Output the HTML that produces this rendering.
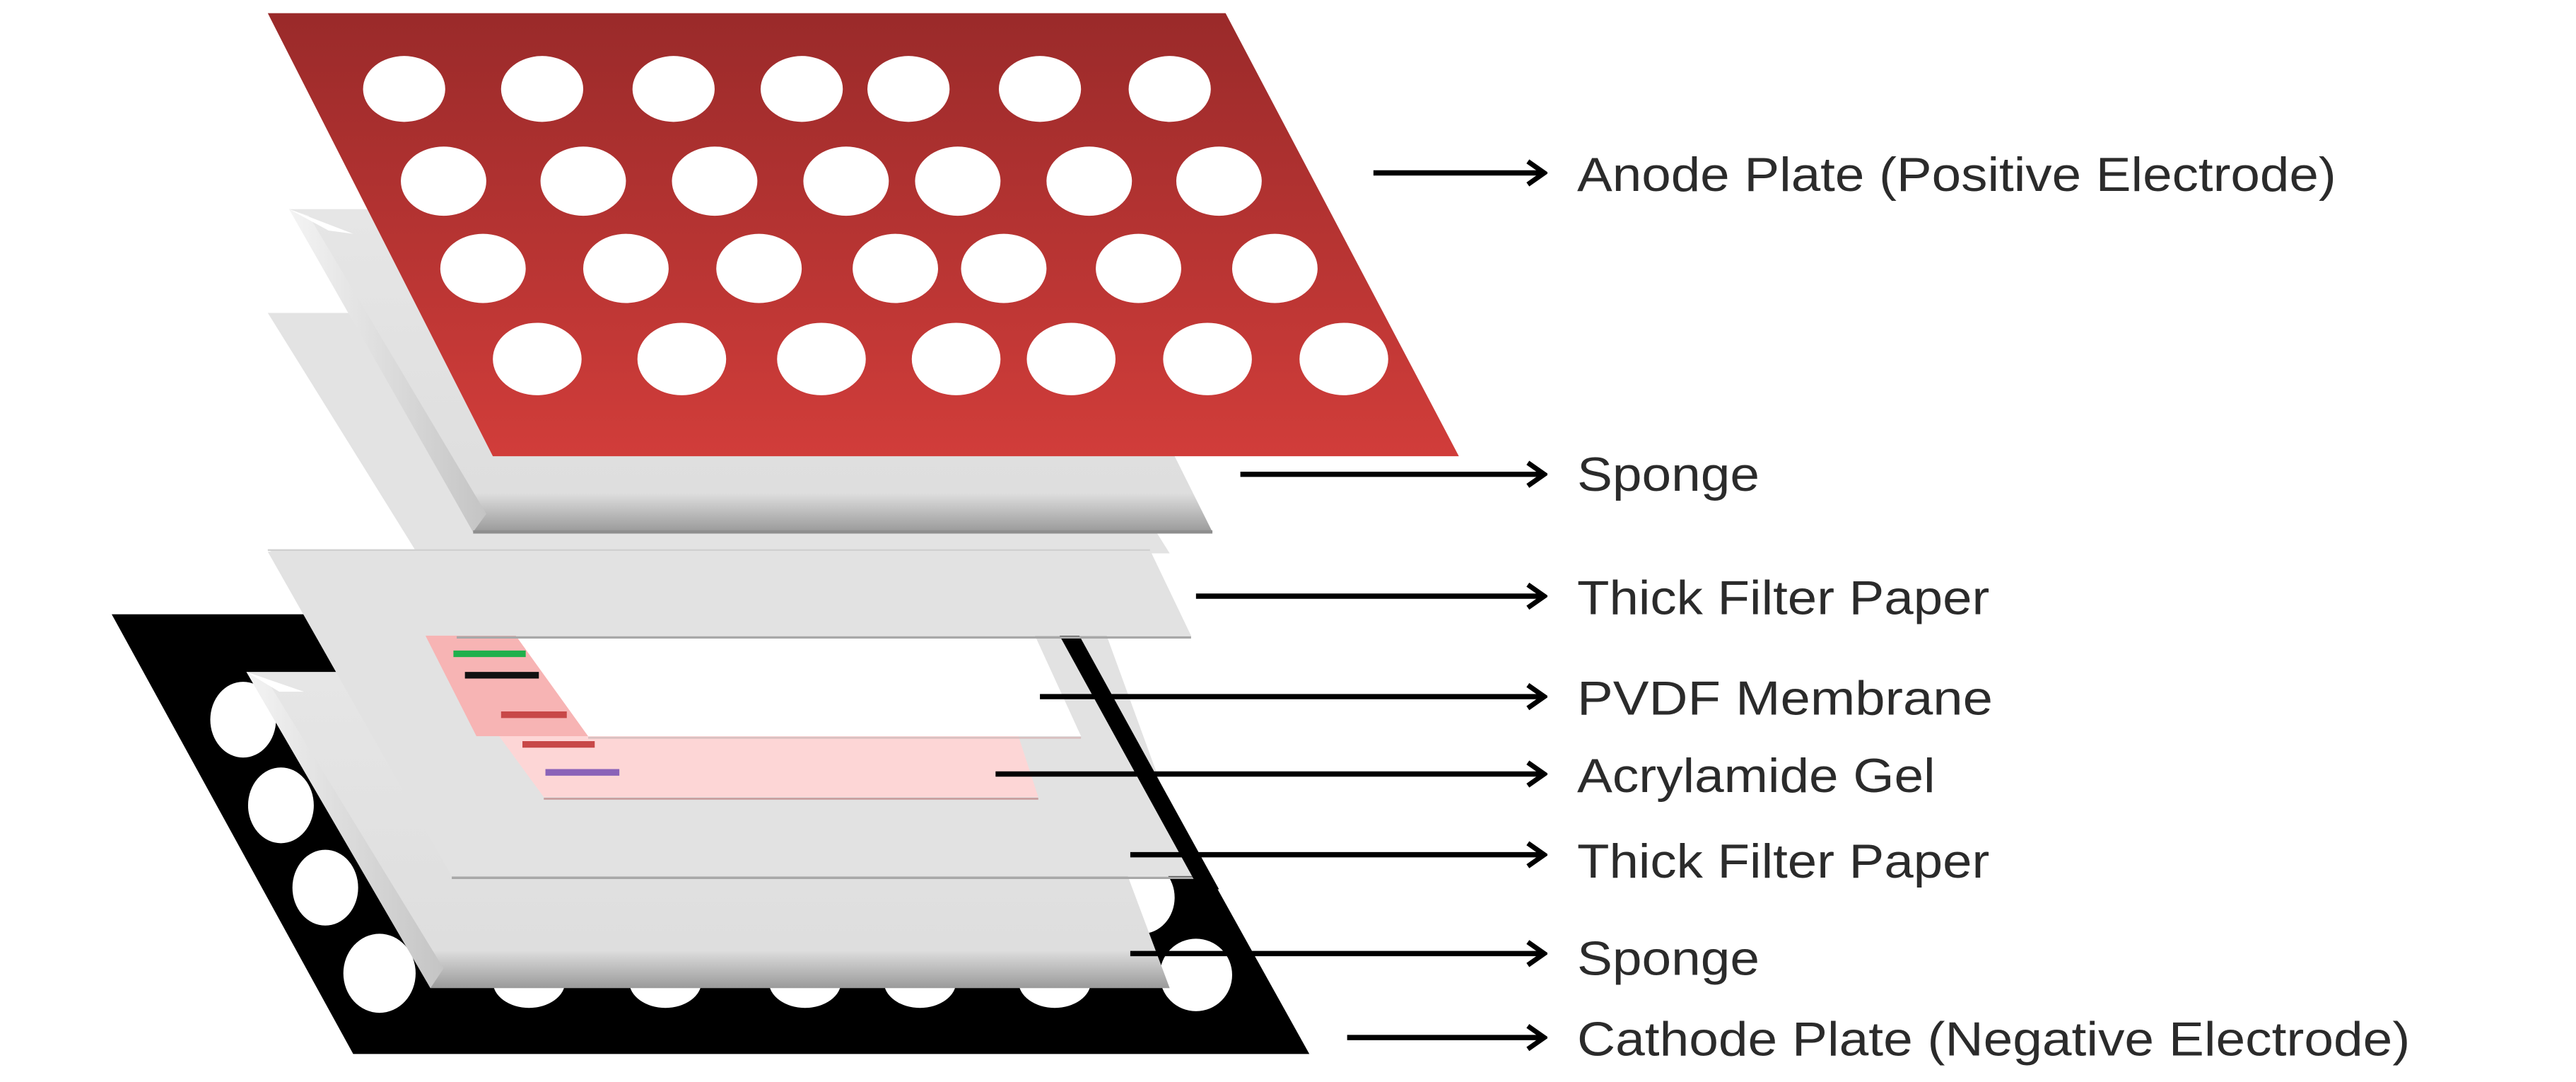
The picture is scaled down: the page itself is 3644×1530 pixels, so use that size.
<!DOCTYPE html>
<html><head><meta charset="utf-8"><style>
html,body{margin:0;padding:0;background:#fff;}
svg{display:block;}
text{font-family:"Liberation Sans",sans-serif;fill:#2b2b2b;font-size:29px;}
</style></head><body>
<svg width="3644" height="1530" viewBox="0 0 1568 657" preserveAspectRatio="none" xmlns="http://www.w3.org/2000/svg">
<defs>
<linearGradient id="red" x1="0" y1="0" x2="0" y2="1">
<stop offset="0" stop-color="#9a2a2a"/><stop offset="1" stop-color="#d13d3a"/></linearGradient>
<linearGradient id="sp" x1="0" y1="0" x2="0" y2="1">
<stop offset="0" stop-color="#e6e6e6"/><stop offset="0.88" stop-color="#dedede"/><stop offset="1" stop-color="#9a9a9a"/></linearGradient>
<linearGradient id="spl" x1="0" y1="0" x2="1" y2="0">
<stop offset="0" stop-color="#f4f4f4"/><stop offset="1" stop-color="#c4c4c4"/></linearGradient>
<marker id="ah" markerWidth="14" markerHeight="18" refX="12" refY="9" orient="auto" markerUnits="userSpaceOnUse">
<polyline points="2,2 12,9 2,16" fill="none" stroke="#000" stroke-width="3"/></marker>
</defs>
<rect width="1568" height="657" fill="#fff"/>

<!-- Cathode plate -->
<polygon points="68,373 648,373 797,640 215,640" fill="#000"/>
<polygon points="300,384 645,384 719,520 300,520" fill="#fff"/>
<g fill="#fff">
<ellipse cx="148" cy="437" rx="20" ry="23"/>
<ellipse cx="171" cy="489" rx="20" ry="23"/>
<ellipse cx="198" cy="539" rx="20" ry="23"/>
<ellipse cx="231" cy="591" rx="22" ry="24"/>
<ellipse cx="322" cy="596" rx="22" ry="16"/>
<ellipse cx="405" cy="596" rx="22" ry="16"/>
<ellipse cx="490" cy="596" rx="22" ry="16"/>
<ellipse cx="560" cy="596" rx="22" ry="16"/>
<ellipse cx="642" cy="596" rx="22" ry="16"/>
<ellipse cx="695" cy="545" rx="20" ry="22"/>
<ellipse cx="728" cy="592" rx="22" ry="22"/>
</g>

<!-- Lower sponge -->
<polygon points="150,408 640,408 712,600 262,600" fill="url(#sp)"/>
<polygon points="150,408 162,412 270,588 262,600" fill="url(#spl)"/>
<polygon points="150,408 170,420 185,420" fill="#fff"/>

<!-- Lower thick filter paper -->
<polygon points="163,335 655,335 727,532 275,532" fill="#e2e2e2"/>
<line x1="275" y1="533" x2="727" y2="533" stroke="#a8a8a8" stroke-width="1.5"/>

<!-- cathode right edge stripe -->
<polygon points="645,386 657,386 742,540 730,540" fill="#000"/>

<!-- Gel -->
<polygon points="259,386 600,386 632,484 331,484" fill="#fdd6d6"/>
<polygon points="259,386 314,386 358,447 290,447" fill="#f7b4b4"/>
<line x1="331" y1="485" x2="632" y2="485" stroke="#c9a0a0" stroke-width="1.2"/>
<line x1="276" y1="397" x2="320" y2="397" stroke="#1fb04c" stroke-width="4"/>
<line x1="283" y1="410" x2="328" y2="410" stroke="#111" stroke-width="4"/>
<line x1="305" y1="434" x2="345" y2="434" stroke="#c84848" stroke-width="4"/>
<line x1="318" y1="452" x2="362" y2="452" stroke="#c84848" stroke-width="4"/>
<line x1="332" y1="469" x2="377" y2="469" stroke="#8a63b8" stroke-width="4"/>

<!-- PVDF membrane -->
<polygon points="314,386 630,386 658,447 358,447" fill="#fff"/>
<line x1="358" y1="448" x2="658" y2="448" stroke="#d8c0c0" stroke-width="1.2"/>

<!-- Upper sheet A -->
<polygon points="163,190 620,190 712,336 254,336" fill="#e3e3e3"/>
<!-- Upper thick filter paper -->
<polygon points="163,334 700,334 725,386 278,386" fill="#e2e2e2"/>
<line x1="163" y1="334" x2="700" y2="334" stroke="#d0d0d0" stroke-width="1"/>
<line x1="278" y1="387" x2="725" y2="387" stroke="#a8a8a8" stroke-width="1.5"/>

<!-- Upper sponge -->
<polygon points="176,127 640,127 738,323 288,323" fill="url(#sp)"/>
<polygon points="176,127 188,131 296,312 288,323" fill="url(#spl)"/>
<polygon points="176,127 200,140 215,142" fill="#fff"/>
<line x1="288" y1="323" x2="738" y2="323" stroke="#8e8e8e" stroke-width="2"/>

<!-- Anode plate -->
<polygon points="163,8 746,8 888,277 300,277" fill="url(#red)"/>
<g fill="#fff">
<ellipse cx="246" cy="54" rx="25" ry="20"/><ellipse cx="330" cy="54" rx="25" ry="20"/><ellipse cx="410" cy="54" rx="25" ry="20"/><ellipse cx="488" cy="54" rx="25" ry="20"/><ellipse cx="553" cy="54" rx="25" ry="20"/><ellipse cx="633" cy="54" rx="25" ry="20"/><ellipse cx="712" cy="54" rx="25" ry="20"/>
<ellipse cx="270" cy="110" rx="26" ry="21"/><ellipse cx="355" cy="110" rx="26" ry="21"/><ellipse cx="435" cy="110" rx="26" ry="21"/><ellipse cx="515" cy="110" rx="26" ry="21"/><ellipse cx="583" cy="110" rx="26" ry="21"/><ellipse cx="663" cy="110" rx="26" ry="21"/><ellipse cx="742" cy="110" rx="26" ry="21"/>
<ellipse cx="294" cy="163" rx="26" ry="21"/><ellipse cx="381" cy="163" rx="26" ry="21"/><ellipse cx="462" cy="163" rx="26" ry="21"/><ellipse cx="545" cy="163" rx="26" ry="21"/><ellipse cx="611" cy="163" rx="26" ry="21"/><ellipse cx="693" cy="163" rx="26" ry="21"/><ellipse cx="776" cy="163" rx="26" ry="21"/>
<ellipse cx="327" cy="218" rx="27" ry="22"/><ellipse cx="415" cy="218" rx="27" ry="22"/><ellipse cx="500" cy="218" rx="27" ry="22"/><ellipse cx="582" cy="218" rx="27" ry="22"/><ellipse cx="652" cy="218" rx="27" ry="22"/><ellipse cx="735" cy="218" rx="27" ry="22"/><ellipse cx="818" cy="218" rx="27" ry="22"/>
</g>

<!-- Arrows -->
<g stroke="#000" stroke-width="3.2" marker-end="url(#ah)">
<line x1="836" y1="105" x2="940" y2="105"/>
<line x1="755" y1="288" x2="940" y2="288"/>
<line x1="728" y1="362" x2="940" y2="362"/>
<line x1="633" y1="423" x2="940" y2="423"/>
<line x1="606" y1="470" x2="940" y2="470"/>
<line x1="688" y1="519" x2="940" y2="519"/>
<line x1="688" y1="579" x2="940" y2="579"/>
<line x1="820" y1="630" x2="940" y2="630"/>
</g>

<!-- Labels -->
<text x="960" y="116" textLength="462" lengthAdjust="spacingAndGlyphs">Anode Plate (Positive Electrode)</text>
<text x="960" y="298" textLength="111" lengthAdjust="spacingAndGlyphs">Sponge</text>
<text x="960" y="373" textLength="251" lengthAdjust="spacingAndGlyphs">Thick Filter Paper</text>
<text x="960" y="434" textLength="253" lengthAdjust="spacingAndGlyphs">PVDF Membrane</text>
<text x="960" y="481" textLength="218" lengthAdjust="spacingAndGlyphs">Acrylamide Gel</text>
<text x="960" y="533" textLength="251" lengthAdjust="spacingAndGlyphs">Thick Filter Paper</text>
<text x="960" y="592" textLength="111" lengthAdjust="spacingAndGlyphs">Sponge</text>
<text x="960" y="641" textLength="507" lengthAdjust="spacingAndGlyphs">Cathode Plate (Negative Electrode)</text>
</svg>
</body></html>
